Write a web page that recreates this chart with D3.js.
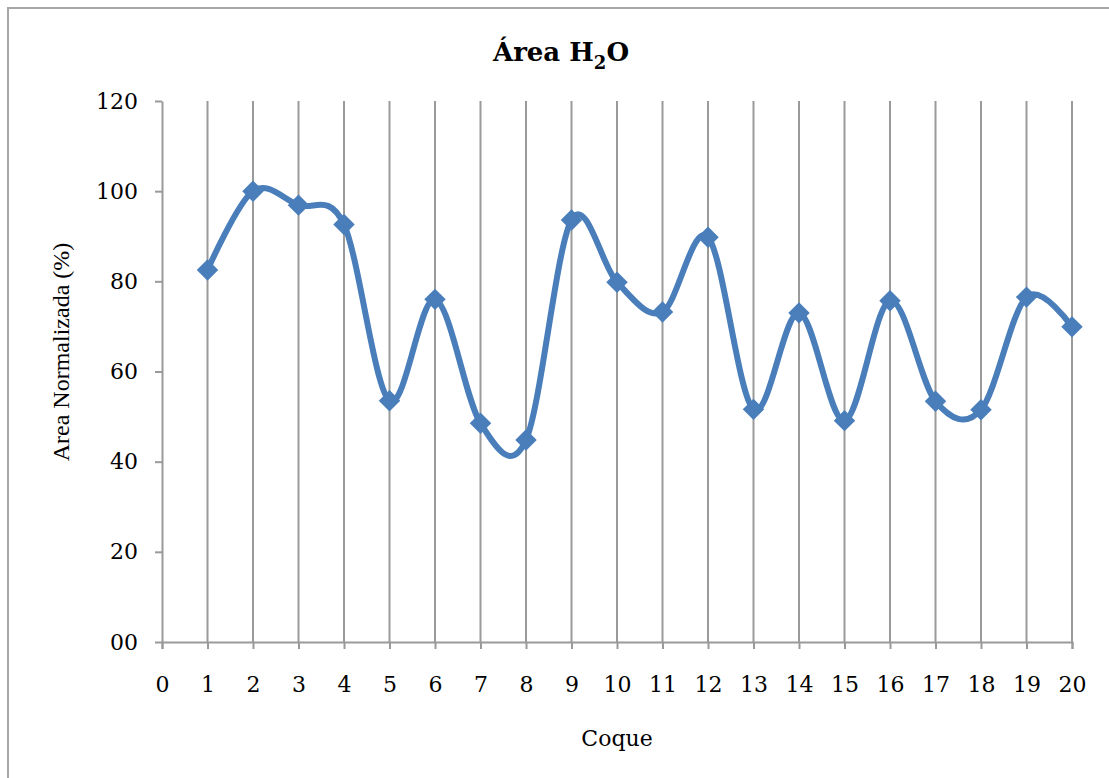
<!DOCTYPE html>
<html>
<head>
<meta charset="utf-8">
<script src="https://cdn.jsdelivr.net/npm/d3@7"></script>
<style>
  html, body { margin: 0; padding: 0; background: #fff; }
  svg { display: block; }
</style>
</head>
<body>
<svg id="chart" width="1109" height="778"></svg>
<script>
// Coque number and normalized H2O area (%)
const coque = [1, 2, 3, 4, 5, 6, 7, 8, 9, 10, 11, 12, 13, 14, 15, 16, 17, 18, 19, 20];
const areaNormalizada = [82.5, 100, 96.9, 92.6, 53.5, 76, 48.5, 44.8, 93.6, 79.8,
                         73.2, 89.8, 51.6, 73, 49.1, 75.7, 53.4, 51.5, 76.5, 69.9];
const xTicks = d3.range(0, 21);
const yTicks = [0, 20, 40, 60, 80, 100, 120];
const yTickLabels = ["00", "20", "40", "60", "80", "100", "120"];

const svg = d3.select("#chart");
const W = 1109, H = 778;
const serif = "'DejaVu Serif', serif";
const gridColor = "#9a9a9a";
const lineColor = "#4a7ebb";

// chart frame
svg.append("rect")
  .attr("x", 8).attr("y", 8)
  .attr("width", W + 20).attr("height", H + 20)
  .attr("fill", "#fff")
  .attr("stroke", "#a6a6a6").attr("stroke-width", 2);

const x = d3.scaleLinear().domain([0, 20]).range([162, 1072]);
const y = d3.scaleLinear().domain([0, 120]).range([642, 101]);

// vertical gridlines
svg.append("g")
  .selectAll("line")
  .data(coque)
  .join("line")
  .attr("x1", d => x(d)).attr("x2", d => x(d))
  .attr("y1", y(120)).attr("y2", y(0))
  .attr("stroke", gridColor).attr("stroke-width", 2);

// x axis
const xAxis = svg.append("g")
  .attr("transform", `translate(0,${y(0)})`)
  .call(d3.axisBottom(x).tickValues(xTicks).tickFormat(d3.format("d"))
    .tickSize(7).tickPadding(27));
xAxis.select(".domain").attr("stroke", gridColor).attr("stroke-width", 2);
xAxis.selectAll(".tick line").attr("stroke", gridColor).attr("stroke-width", 2);
xAxis.selectAll(".tick text")
  .attr("font-family", serif).attr("font-size", 22).attr("fill", "#000");

// y axis
const yAxis = svg.append("g")
  .attr("transform", `translate(${x(0)},0)`)
  .call(d3.axisLeft(y).tickValues(yTicks)
    .tickFormat((d, i) => yTickLabels[i])
    .tickSize(7).tickSizeOuter(0).tickPadding(17));
yAxis.select(".domain").attr("stroke", gridColor).attr("stroke-width", 2);
yAxis.selectAll(".tick line").attr("stroke", gridColor).attr("stroke-width", 2);
yAxis.selectAll(".tick text")
  .attr("font-family", serif).attr("font-size", 22).attr("fill", "#000");

// smoothed series line
const line = d3.line()
  .x((d, i) => x(coque[i]))
  .y(d => y(d))
  .curve(d3.curveCardinal.tension(0));

svg.append("path")
  .datum(areaNormalizada)
  .attr("d", line)
  .attr("fill", "none")
  .attr("stroke", lineColor)
  .attr("stroke-width", 6)
  .attr("stroke-linejoin", "round");

// diamond markers
const diamond = d3.symbol(d3.symbolSquare, 230);
svg.append("g")
  .selectAll("path")
  .data(areaNormalizada)
  .join("path")
  .attr("d", diamond)
  .attr("transform", (d, i) => `translate(${x(coque[i])},${y(d)}) rotate(45)`)
  .attr("fill", lineColor);

// title
const title = svg.append("text")
  .attr("x", 561).attr("y", 61)
  .attr("text-anchor", "middle")
  .attr("font-family", serif).attr("font-weight", "bold")
  .attr("font-size", 26).attr("fill", "#000");
title.append("tspan").text("Área H");
title.append("tspan").attr("dy", 8).attr("font-size", 18).text("2");
title.append("tspan").attr("dy", -8).text("O");

// axis titles
svg.append("text")
  .attr("x", 617).attr("y", 746)
  .attr("text-anchor", "middle")
  .attr("font-family", serif).attr("font-size", 22).attr("fill", "#000")
  .text("Coque");

svg.append("text")
  .attr("transform", "translate(69,352) rotate(-90)")
  .attr("text-anchor", "middle")
  .attr("font-family", "'Liberation Serif', serif").attr("font-size", 24).attr("fill", "#000")
  .text("Area Normalizada (%)");
</script>
</body>
</html>
